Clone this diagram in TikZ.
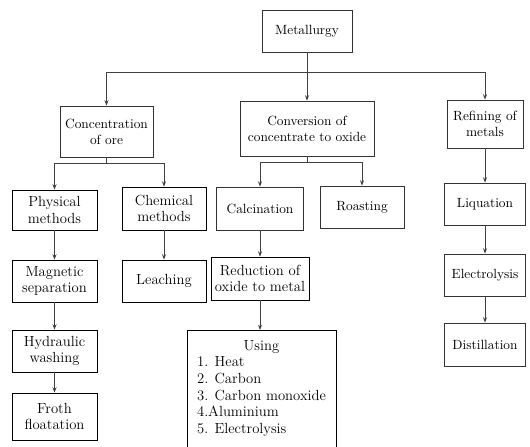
\documentclass[tikz,border=0pt]{standalone}
\usetikzlibrary{arrows.meta}

\begin{document}
\begin{tikzpicture}[x=0.75pt,y=-0.75pt,
        box/.style={draw=black!80,line width=0.6pt,align=center,inner sep=2pt,font=\normalsize},
        bigbox/.style={box,draw=black,font=\fontsize{11}{12.5}\selectfont},
        arr/.style={draw=black!75,line width=0.6pt,-{Stealth[length=4pt,width=3pt]}},
        line/.style={draw=black!75,line width=0.6pt}]
    \useasboundingbox (0,0) rectangle (530,446);
    \clip (0,0) rectangle (530,446);

    % top levels
    \node[box,minimum width=67.5pt,minimum height=31.5pt] (metal) at (307,31) {Metallurgy};
    \node[box,minimum width=69.75pt,minimum height=38.25pt] (conc) at (106.5,131.5) {Concentration\\of ore};
    \node[box,minimum width=100.5pt,minimum height=41.25pt] (conv) at (307,128.5) {Conversion of\\concentrate to oxide};
    \node[box,minimum width=57pt,minimum height=36pt] (refin) at (485,124) {Refining of\\metals};

    % concentration of ore
    \node[bigbox,minimum width=63.75pt,minimum height=30pt] (phys) at (54.5,210) {Physical\\methods};
    \node[bigbox,minimum width=63.75pt,minimum height=31.5pt] (magn) at (54.5,281) {Magnetic\\separation};
    \node[bigbox,minimum width=63.75pt,minimum height=31.5pt] (hydr) at (54.5,351) {Hydraulic\\washing};
    \node[bigbox,minimum width=63.75pt,minimum height=35.25pt] (froth) at (54.5,416.5) {Froth\\floatation};
    \node[bigbox,minimum width=63pt,minimum height=32.25pt] (chem) at (164,208.5) {Chemical\\methods};
    \node[bigbox,minimum width=63pt,minimum height=31.5pt] (leach) at (164,281) {Leaching};

    % conversion to oxide
    \node[box,minimum width=65.25pt,minimum height=32.25pt] (calc) at (260,208.5) {Calcination};
    \node[box,minimum width=63pt,minimum height=31.5pt] (roast) at (362,207) {Roasting};
    \node[bigbox,minimum width=73.5pt,minimum height=32.25pt] (reduc) at (260,278.5) {Reduction of\\oxide to metal};
    \node[bigbox,anchor=north,minimum width=111.75pt,inner ysep=6pt] (using) at (261.5,330)
        {\begin{tabular}{@{}l@{}}
            \multicolumn{1}{c}{Using}\\
            1. Heat\\
            2. Carbon\\
            3. Carbon monoxide\\
            4.Aluminium\\
            5. Electrolysis\\
            \mbox{}
        \end{tabular}};

    % refining
    \node[box,minimum width=60.75pt,minimum height=31.5pt] (liq) at (485,204) {Liquation};
    \node[box,minimum width=60.75pt,minimum height=31.5pt] (electr) at (485,275) {Electrolysis};
    \node[box,minimum width=60.75pt,minimum height=32.25pt] (distil) at (485,344.5) {Distillation};

    % connectors
    \coordinate (bus1) at (307,72);
    \coordinate (bus2) at (106.5,163);
    \coordinate (bus3) at (307,162);
    \draw[line] (metal) -- (bus1);
    \draw[arr] (bus1) -| (conc);
    \draw[arr] (bus1) -- (conv);
    \draw[arr] (bus1) -| (refin);
    \draw[line] (conc) -- (bus2);
    \draw[arr] (bus2) -| (phys);
    \draw[arr] (bus2) -| (chem);
    \draw[line] (conv) -- (bus3);
    \draw[arr] (bus3) -| (calc);
    \draw[arr] (bus3) -| (roast);
    \draw[arr] (phys) -- (magn);
    \draw[arr] (magn) -- (hydr);
    \draw[arr] (hydr) -- (froth);
    \draw[arr] (chem) -- (leach);
    \draw[arr] (calc) -- (reduc);
    \draw[arr] (reduc) -- (reduc |- using.north);
    \draw[arr] (refin) -- (liq);
    \draw[arr] (liq) -- (electr);
    \draw[arr] (electr) -- (distil);
\end{tikzpicture}
\end{document}
